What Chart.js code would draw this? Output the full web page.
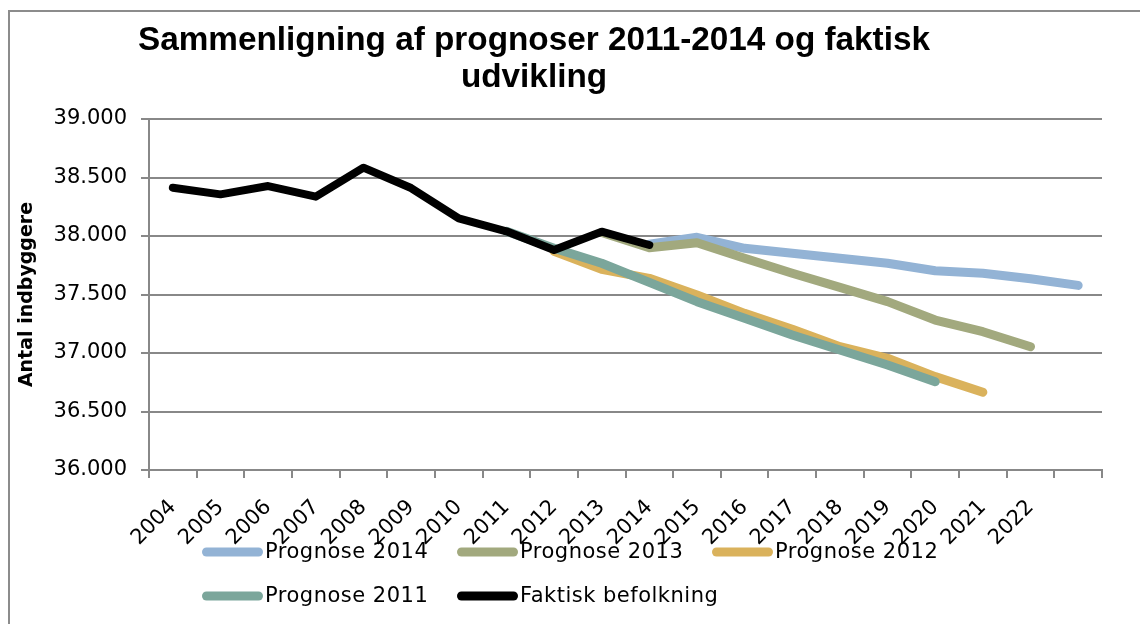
<!DOCTYPE html>
<html>
<head>
<meta charset="utf-8">
<script src="https://cdn.jsdelivr.net/npm/chart.js@4/dist/chart.umd.min.js"></script>
<style>
  html, body { margin: 0; padding: 0; background: #fff; }
  #wrap { position: relative; width: 1140px; height: 624px; }
</style>
</head>
<body>
<div id="wrap"><canvas id="chart" width="1140" height="624"></canvas></div>
<script>
// data
const years = ['2004', '2005', '2006', '2007', '2008', '2009', '2010', '2011', '2012', '2013',
  '2014', '2015', '2016', '2017', '2018', '2019', '2020', '2021', '2022', ''];
const prognose2014 = [null, null, null, null, null, null, null, null, null, null,
  37930, 37989, 37895, 37852, 37809, 37767, 37703, 37681, 37635, 37578];
const prognose2013 = [null, null, null, null, null, null, null, null, null, 38030,
  37900, 37943, 37809, 37681, 37561, 37439, 37282, 37182, 37054, null];
const prognose2012 = [null, null, null, null, null, null, null, null, 37870, 37715,
  37638, 37496, 37339, 37203, 37054, 36955, 36798, 36665, null, null];
const prognose2011 = [null, null, null, null, null, null, null, 38040, 37895, 37767,
  37603, 37439, 37297, 37154, 37026, 36897, 36755, null, null, null];
const faktisk = [38413, 38356, 38427, 38336, 38584, 38410, 38151, 38040, 37880, 38037,
  37923, null, null, null, null, null, null, null, null, null];
const yTicks = [36000, 36500, 37000, 37500, 38000, 38500, 39000];
const seriesNames = ['Prognose 2014', 'Prognose 2013', 'Prognose 2012', 'Prognose 2011', 'Faktisk befolkning'];
const seriesColors = ['#93b3d5', '#a2a97e', '#dab25c', '#7ba69b', '#000000'];
const titleLines = ['Sammenligning af prognoser 2011-2014 og faktisk', 'udvikling'];

const FONT = '"DejaVu Sans", "Liberation Sans", sans-serif';
const GRID = '#888888';

// 38500 -> "38.500"
const fmt = (v) => String(v).replace(/\B(?=(\d{3})+(?!\d))/g, '.');

// background, frame, title and legend
const decor = {
  id: 'decor',
  beforeDraw(c) {
    const g = c.ctx;
    g.save();
    g.fillStyle = '#fff';
    g.fillRect(0, 0, c.width, c.height);
    g.strokeStyle = '#8c8c8c';
    g.lineWidth = 2;
    g.beginPath();
    g.moveTo(9, 624);
    g.lineTo(9, 11);
    g.lineTo(1140, 11);
    g.stroke();
    g.restore();
  },
  afterDraw(c) {
    const g = c.ctx;
    g.save();
    // title, squeezed to look condensed
    g.font = 'bold 34px "Liberation Sans", sans-serif';
    g.fillStyle = '#000';
    g.textAlign = 'center';
    g.textBaseline = 'alphabetic';
    const sx = 792 / g.measureText(titleLines[0]).width;
    g.save();
    g.translate(534, 0);
    g.scale(sx, 1);
    g.fillText(titleLines[0], 0, 50);
    g.fillText(titleLines[1], 0, 87);
    g.restore();

    // legend in equal columns, two rows
    const cols = [202, 457, 712];
    const rows = [552, 596];
    g.font = '21px ' + FONT;
    g.letterSpacing = '0.5px';
    g.textAlign = 'left';
    g.textBaseline = 'middle';
    c.data.datasets.forEach((ds, i) => {
      const x = cols[i % 3];
      const y = rows[Math.floor(i / 3)];
      g.strokeStyle = ds.borderColor;
      g.lineWidth = 9;
      g.lineCap = 'round';
      g.beginPath();
      g.moveTo(x + 4.5, y);
      g.lineTo(x + 56.5, y);
      g.stroke();
      g.fillStyle = '#000';
      g.fillText(ds.label, x + 63, y + 1);
    });
    g.restore();
  }
};

const seriesData = [prognose2014, prognose2013, prognose2012, prognose2011, faktisk];
const datasets = seriesData.map((d, i) => ({
  label: seriesNames[i],
  data: d,
  borderColor: seriesColors[i],
  backgroundColor: seriesColors[i],
  borderWidth: i === 4 ? 8 : 9,
  borderCapStyle: 'round',
  borderJoinStyle: 'round',
  pointRadius: 0,
  tension: 0,
  fill: false,
  order: 5 - i // later series drawn on top, like Excel
}));

new Chart(document.getElementById('chart'), {
  type: 'line',
  data: { labels: years, datasets },
  options: {
    responsive: false,
    animation: false,
    events: [],
    layout: { padding: { top: 119, right: 38, left: 0, bottom: 0 } },
    plugins: {
      legend: { display: false },
      title: { display: false },
      tooltip: { enabled: false }
    },
    scales: {
      x: {
        offset: true,
        grid: { offset: true, drawOnChartArea: false, color: GRID, lineWidth: 2, tickLength: 8 },
        border: { color: GRID, width: 2 },
        ticks: {
          autoSkip: false,
          minRotation: 45,
          maxRotation: 45,
          color: '#000',
          padding: 17,
          font: { family: FONT, size: 21 }
        },
        afterFit: (s) => { s.height = 154; }
      },
      y: {
        min: 36000,
        max: 39000,
        afterBuildTicks: (s) => { s.ticks = yTicks.map(v => ({ value: v })); },
        grid: { color: GRID, lineWidth: 2, tickLength: 8 },
        border: { color: GRID, width: 2 },
        ticks: {
          color: '#000',
          padding: 14,
          font: { family: FONT, size: 21 },
          callback: (v) => fmt(v)
        },
        title: {
          display: true,
          text: 'Antal indbyggere',
          color: '#000',
          padding: { top: 16, bottom: 0 },
          font: { family: FONT, size: 19, weight: 'bold' }
        },
        afterFit: (s) => { s.width = 149; }
      }
    }
  },
  plugins: [decor]
});
</script>
</body>
</html>
